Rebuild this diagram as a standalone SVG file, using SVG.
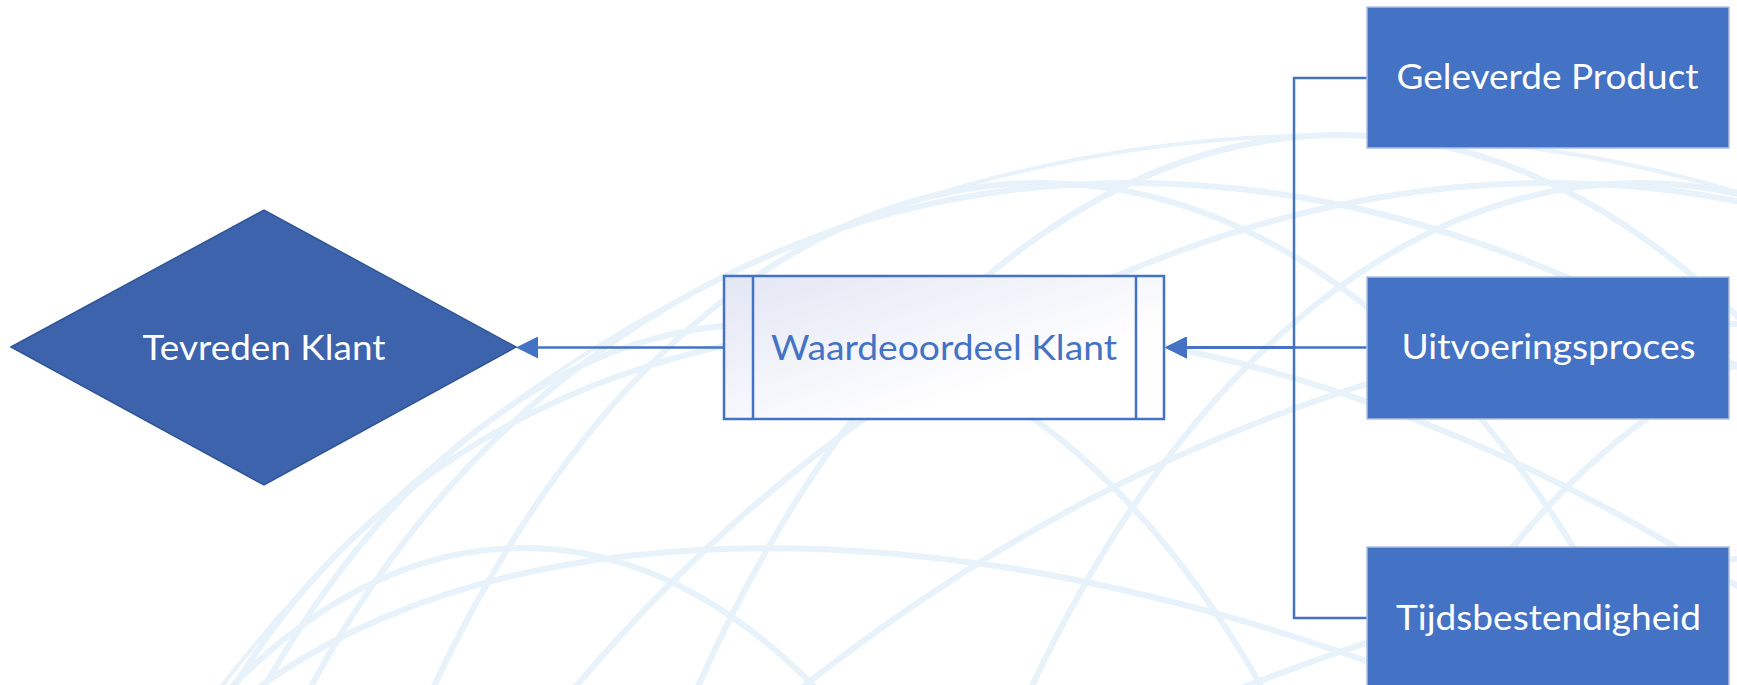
<svg xmlns="http://www.w3.org/2000/svg" width="1737" height="685" viewBox="0 0 1737 685">
<style>
.bg{fill:none;stroke:#E7F2FA;stroke-width:6}
.bgm{fill:none;stroke:#E7F2FA;stroke-width:6;vector-effect:non-scaling-stroke}
.conn{fill:none;stroke:#4472C4;stroke-width:2.5}
.lbl{font-family:Lato,"Open Sans","Liberation Sans",sans-serif;font-size:35px;text-anchor:middle}
.box{fill:#4472C4;stroke:#AFC0DF;stroke-width:1.5}
</style>
<defs>
<marker id="arrow" markerUnits="userSpaceOnUse" markerWidth="22" markerHeight="22" viewBox="0 0 22 22" refX="2" refY="11" orient="auto">
<path d="M0,0 L22,11 L0,22 Z" fill="#4472C4"/>
</marker>
<linearGradient id="gradW" x1="0" y1="0" x2="1" y2="1">
<stop offset="0" stop-color="#E2E6F4"/>
<stop offset="0.7" stop-color="#FFFFFF"/>
</linearGradient>
</defs>
<rect width="1737" height="685" fill="#FFFFFF"/>
<g id="background" transform="translate(1340,1545) rotate(90)">
<circle class="bg" r="1410" style="stroke-width:4"/>
<ellipse class="bg" cx="0" cy="817" rx="997" ry="572"/>
<ellipse class="bg" cx="0" cy="577" rx="1221" ry="701"/>
<ellipse class="bg" cx="0" cy="299" rx="1362" ry="782"/>
<ellipse class="bg" cx="0" cy="0" rx="1410" ry="809"/>
<ellipse class="bg" cx="0" cy="-299" rx="1362" ry="782"/>
<ellipse class="bg" cx="0" cy="-577" rx="1221" ry="701"/>
<ellipse class="bg" cx="0" cy="-817" rx="997" ry="572"/>
<circle class="bgm" r="1410" transform="matrix(0.966,0.149,0,-0.819,0,0)"/>
<circle class="bgm" r="1410" transform="matrix(0.966,-0.149,0,-0.819,0,0)"/>
<circle class="bgm" r="1410" transform="matrix(0.866,0.287,0,-0.819,0,0)"/>
<circle class="bgm" r="1410" transform="matrix(0.866,-0.287,0,-0.819,0,0)"/>
<circle class="bgm" r="1410" transform="matrix(0.707,0.406,0,-0.819,0,0)"/>
<circle class="bgm" r="1410" transform="matrix(0.707,-0.406,0,-0.819,0,0)"/>
</g>
<g id="connectors">
<path class="conn" d="M724,347.5 H536" marker-end="url(#arrow)"/>
<path class="conn" d="M1367,78 H1294 V347.5 H1185" marker-end="url(#arrow)"/>
<path class="conn" d="M1367,347.5 H1185" marker-end="url(#arrow)"/>
<path class="conn" d="M1367,618 H1294 V347.5 H1185" marker-end="url(#arrow)"/>
</g>
<g id="tevreden-klant">
<polygon points="11,347 264,210 516,347 264,485" fill="#3D63AC" stroke="#2F5597" stroke-width="1.5"/>
<text class="lbl" x="264" y="360" fill="#FFFFFF" textLength="243" lengthAdjust="spacingAndGlyphs">Tevreden Klant</text>
</g>
<g id="waardeoordeel-klant">
<rect x="724" y="276" width="440" height="143" fill="url(#gradW)" stroke="#4472C4" stroke-width="2.5"/>
<line x1="753" y1="276" x2="753" y2="419" stroke="#4472C4" stroke-width="2.5"/>
<line x1="1136" y1="276" x2="1136" y2="419" stroke="#4472C4" stroke-width="2.5"/>
<text class="lbl" x="944" y="360" fill="#4472C4" textLength="346" lengthAdjust="spacingAndGlyphs">Waardeoordeel Klant</text>
</g>
<g id="geleverde-product">
<rect class="box" x="1367" y="7" width="362" height="141"/>
<text class="lbl" x="1547.5" y="89" fill="#FFFFFF" textLength="302" lengthAdjust="spacingAndGlyphs">Geleverde Product</text>
</g>
<g id="uitvoeringsproces">
<rect class="box" x="1367" y="277" width="362" height="142"/>
<text class="lbl" x="1548.5" y="359" fill="#FFFFFF" textLength="294" lengthAdjust="spacingAndGlyphs">Uitvoeringsproces</text>
</g>
<g id="tijdsbestendigheid">
<rect class="box" x="1367" y="547" width="362" height="145"/>
<text class="lbl" x="1548.5" y="630" fill="#FFFFFF" textLength="305" lengthAdjust="spacingAndGlyphs">Tijdsbestendigheid</text>
</g>
</svg>
